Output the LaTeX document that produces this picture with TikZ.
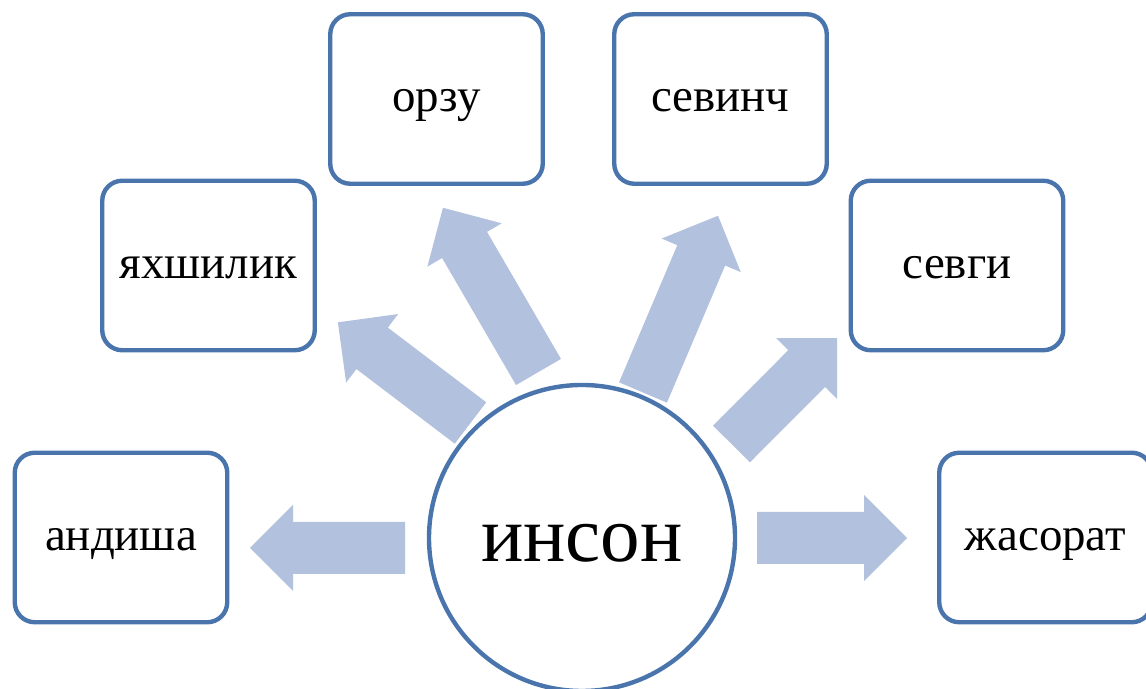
\documentclass[tikz,border=0pt]{standalone}
\usepackage{fontspec}
\setmainfont{Liberation Serif}
\definecolor{edgeblue}{RGB}{74,116,172}
\definecolor{flowblue}{RGB}{178,193,221}
\begin{document}
\begin{tikzpicture}[
		wordbox/.style={draw=edgeblue, line width=2.5pt, rounded corners=0.4cm, minimum width=4.25cm, minimum height=3.39cm, inner sep=0pt, font=\fontsize{26.7}{32}\selectfont, text height=20pt, text depth=5.3pt},
		hub/.style={draw=edgeblue, line width=2.5pt, circle, minimum size=6.12cm, inner sep=0pt, font=\fontsize{45}{54}\selectfont, text height=36pt, text depth=9pt},
		flow/.style={fill=flowblue}
	]
		\useasboundingbox (0,0) rectangle (22.92,13.78);
		
		\node[hub] (inson) at (11.64,3.02) {инсон};
		
		\node[wordbox] (andisha) at (2.42,3.03) {андиша};
		\node[wordbox] (yakhshilik) at (4.17,8.47) {яхшилик};
		\node[wordbox] (orzu) at (8.73,11.80) {орзу};
		\node[wordbox] (sevinch) at (14.41,11.80) {севинч};
		\node[wordbox] (sevgi) at (19.14,8.47) {севги};
		\node[wordbox] (jasorat) at (20.91,3.03) {жасорат};
		
		% block arrows: tail x / tail y / angle / length
		\foreach \x/\y/\a/\l in {8.10/2.82/180/3.10, 15.14/3.02/0/3.00, 9.41/5.32/142.8/3.33, 10.77/6.34/120.2/3.80, 12.86/5.93/67/3.84, 14.63/4.90/45.1/2.99}{
			\fill[flow, shift={(\x,\y)}, rotate=\a] (0,-0.52) -- ({\l-0.86},-0.52) -- ({\l-0.86},-0.86) -- (\l,0) -- ({\l-0.86},0.86) -- ({\l-0.86},0.52) -- (0,0.52) -- cycle;
		}
		\end{tikzpicture}
\end{document}
